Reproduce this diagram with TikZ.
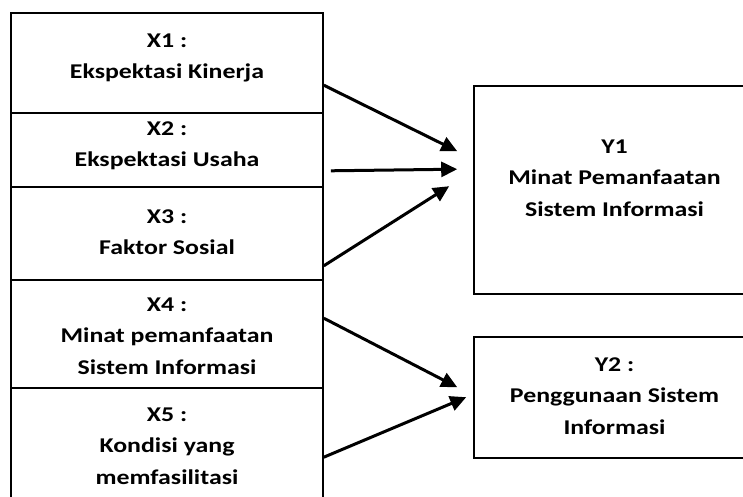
\documentclass[tikz,border=0pt]{standalone}
\usepackage{fontspec}
\newfontfamily\calib{Carlito}[FakeStretch=1.23]
\usetikzlibrary{arrows.meta,calc}
\begin{document}
\begin{tikzpicture}[x=0.5pt,y=-0.5pt,
  box/.style={draw, line width=0.8pt, inner sep=0pt},
  txt/.style={font=\calib\bfseries\fontsize{10.5}{15.75}\selectfont, align=center, inner sep=0pt, anchor=north},
  arr/.style={line width=1.5pt, -{Triangle[length=8pt,width=7.5pt]}}]
\clip (0,0) rectangle (743,497);
\node[box, minimum width=156pt, minimum height=50pt] (x1) at (167,63) {};
\node[box, minimum width=156pt, minimum height=37pt] (x2) at (167,150) {};
\node[box, minimum width=156pt, minimum height=46.5pt] (x3) at (167,233.5) {};
\node[box, minimum width=156pt, minimum height=54pt] (x4) at (167,334) {};
\node[box, minimum width=156pt, minimum height=63.5pt] (x5) at (167,451.5) {};
\node[box, minimum width=140.5pt, minimum height=104pt] (y1) at (614.5,190) {};
\node[box, minimum width=140.5pt, minimum height=60.5pt] (y2) at (614.5,397.5) {};
\node[txt] (t1) at (167,33) {X1 :\\Ekspektasi Kinerja};
\node[txt] (t2) at (167,121) {X2 :\\Ekspektasi Usaha};
\node[txt] (t3) at (167,209) {X3 :\\Faktor Sosial};
\node[txt] (t4) at (167,297) {X4 :\\Minat pemanfaatan\\Sistem Informasi};
\node[txt] (t5) at (167,407) {X5 :\\Kondisi yang\\memfasilitasi};
\node[txt] (ty1) at (614.5,139) {Y1\\Minat Pemanfaatan\\Sistem Informasi};
\node[txt] (ty2) at (614.5,357) {Y2 :\\Penggunaan Sistem\\Informasi};
\draw[arr] ($(x1.north east)+(0,73)$) -- ($(y1.north west)+(-16,66)$);
\draw[arr] ($(x2.south east)+(7,-17)$) -- ($(y1.north west)+(-16,84)$);
\draw[arr] ($(x3.south east)+(0,-15)$) -- ($(y1.north west)+(-24,101)$);
\draw[arr] ($(x4.north east)+(0,39)$) -- ($(y2.north west)+(-16,51)$);
\draw[arr] ($(x5.north east)+(0,70)$) -- ($(y2.north west)+(-7,61)$);
\end{tikzpicture}
\end{document}
